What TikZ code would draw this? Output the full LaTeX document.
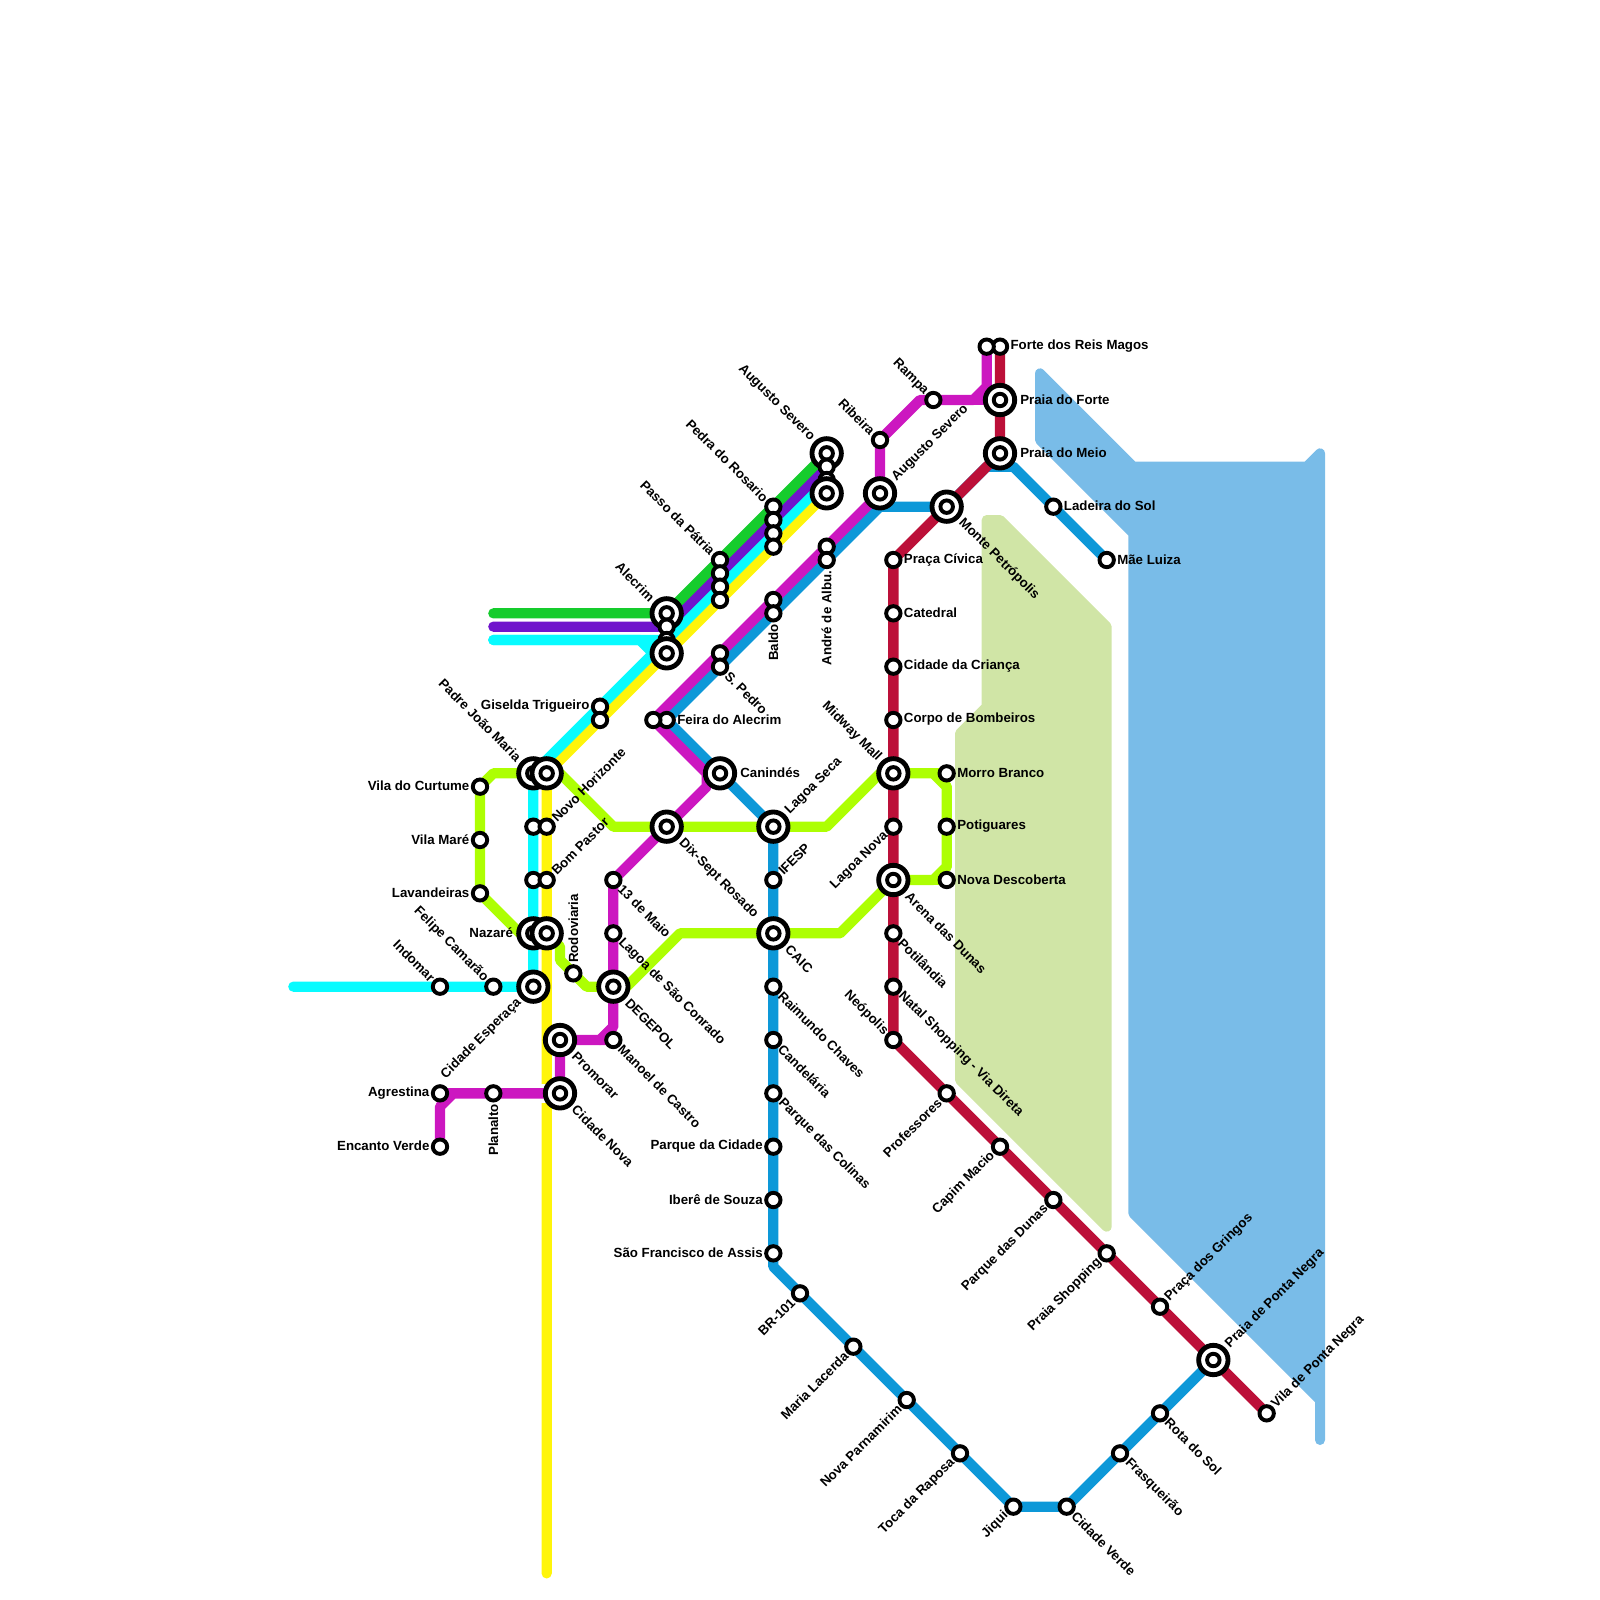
\documentclass[tikz,border=0pt]{standalone}
\usepackage{fontspec}
\setmainfont{Liberation Sans}
\usetikzlibrary{backgrounds}
\definecolor{lnred}{HTML}{BC1039}
\definecolor{lnblue}{HTML}{0D98D8}
\definecolor{lnmag}{HTML}{CC17C0}
\definecolor{lnlime}{HTML}{ADFF03}
\definecolor{lncyan}{HTML}{08FBFF}
\definecolor{lnyellow}{HTML}{FFF50A}
\definecolor{lngreen}{HTML}{15CC2D}
\definecolor{lnpurple}{HTML}{7014CC}
\definecolor{seacol}{HTML}{79BCE8}
\definecolor{parkcol}{HTML}{D0E5A6}
\tikzset{
  stop/.style={circle,draw=black,fill=white,line width=2.5pt,minimum size=9.2pt,inner sep=0pt},
  hub/.style={circle,draw=black,fill=white,line width=3.1pt,minimum size=18.8pt,inner sep=0pt,
    path picture={\draw[line width=2.5pt] (path picture bounding box.center) circle (4pt);}},
  line/.style={line width=6.6pt,line cap=round,line join=round},
  area/.style={line width=6.4pt,line cap=round,line join=round},
  txt/.style={font=\fontsize{8.5}{10}\selectfont\bfseries,inner sep=0pt,text=black},
  lblr/.style={txt,anchor=west,xshift=#1,yshift=0.3pt},
  lblr/.default=6.6pt,
  lbll/.style={txt,anchor=east,xshift=-#1,yshift=0.3pt},
  lbll/.default=6.6pt,
  lbldr/.style={txt,shift={(#1,-#1)},rotate=-45,anchor=west},
  lbldr/.default=4.5pt,
  lblul/.style={txt,shift={(-#1,#1)},rotate=-45,anchor=east},
  lblul/.default=4.5pt,
  lblur/.style={txt,shift={(#1,#1)},rotate=45,anchor=west},
  lblur/.default=4.5pt,
  lbldl/.style={txt,shift={(-#1,-#1)},rotate=45,anchor=east},
  lbldl/.default=4.5pt,
  lblu/.style={txt,yshift=6.6pt,rotate=90,anchor=west},
  lbld/.style={txt,yshift=-6.6pt,rotate=90,anchor=east}
}
\begin{document}
\begin{tikzpicture}[x=0.3cm,y=-0.3cm]
\useasboundingbox (0,0) rectangle (120,120);
% red
\node[stop] (forte) at (75,26) {};
\node[lblr] (fortet) at (forte) {Forte dos Reis Magos};
\node[stop] (forteb) at (74,26) {};
\node[hub] (pforte) at (75,30) {};
\node[lblr=12.8pt] (pfortet) at (pforte) {Praia do Forte};
\node[hub] (pmeio) at (75,34) {};
\node[lblr=12.8pt] (pmeiot) at (pmeio) {Praia do Meio};
\node[hub] (monte) at (71,38) {};
\node[lbldr=9pt] (montet) at (monte) {Monte Petrópolis};
\node[stop] (civica) at (67,42) {};
\node[lblr] (civicat) at (civica) {Praça Cívica};
\node[stop] (catedral) at (67,46) {};
\node[lblr] (catedralt) at (catedral) {Catedral};
\node[stop] (crianca) at (67,50) {};
\node[lblr] (criancat) at (crianca) {Cidade da Criança};
\node[stop] (bombeiros) at (67,54) {};
\node[lblr] (bombeirost) at (bombeiros) {Corpo de Bombeiros};
\node[hub] (midway) at (67,58) {};
\node[lblul=9pt] (midwayt) at (midway) {Midway Mall};
\node[stop] (lnova) at (67,62) {};
\node[lbldl] (lnovat) at (lnova) {Lagoa Nova};
\node[hub] (arena) at (67,66) {};
\node[lbldr=9pt] (arenat) at (arena) {Arena das Dunas};
\node[stop] (potilandia) at (67,70) {};
\node[lbldr] (potilandiat) at (potilandia) {Potilândia};
\node[stop] (natal) at (67,74) {};
\node[lbldr] (natalt) at (natal) {Natal Shopping - Via Direta};
\node[stop] (neopolis) at (67,78) {};
\node[lblul] (neopolist) at (neopolis) {Neópolis};
\node[stop] (profs) at (71,82) {};
\node[lbldl] (profst) at (profs) {Professores};
\node[stop] (capim) at (75,86) {};
\node[lbldl] (capimt) at (capim) {Capim Macio};
\node[stop] (pdunas) at (79,90) {};
\node[lbldl] (pdunast) at (pdunas) {Parque das Dunas};
\node[stop] (pshop) at (83,94) {};
\node[lbldl] (pshopt) at (pshop) {Praia Shopping};
\node[stop] (gringos) at (87,98) {};
\node[lblur] (gringost) at (gringos) {Praça dos Gringos};
\node[hub] (pnegra) at (91,102) {};
\node[lblur=9pt] (pnegrat) at (pnegra) {Praia de Ponta Negra};
\node[stop] (vnegra) at (95,106) {};
\node[lblur] (vnegrat) at (vnegra) {Vila de Ponta Negra};
% blue
\node[stop] (ladeira) at (79,38) {};
\node[lblr] (ladeirat) at (ladeira) {Ladeira do Sol};
\node[stop] (maeluiza) at (83,42) {};
\node[lblr] (maeluizat) at (maeluiza) {Mãe Luiza};
\node[stop] (rota) at (87,106) {};
\node[lbldr] (rotat) at (rota) {Rota do Sol};
\node[stop] (frasq) at (84,109) {};
\node[lbldr] (frasqt) at (frasq) {Frasqueirão};
\node[stop] (cverde) at (80,113) {};
\node[lbldr] (cverdet) at (cverde) {Cidade Verde};
\node[stop] (jiqui) at (76,113) {};
\node[lbldl] (jiquit) at (jiqui) {Jiqui};
\node[stop] (toca) at (72,109) {};
\node[lbldl] (tocat) at (toca) {Toca da Raposa};
\node[stop] (parnamirim) at (68,105) {};
\node[lbldl] (parnamirimt) at (parnamirim) {Nova Parnamirim};
\node[stop] (lacerda) at (64,101) {};
\node[lbldl] (lacerdat) at (lacerda) {Maria Lacerda};
\node[stop] (brcem) at (60,97) {};
\node[lbldl] (brcemt) at (brcem) {BR-101};
\node[stop] (assis) at (58,94) {};
\node[lbll] (assist) at (assis) {São Francisco de Assis};
\node[stop] (ibere) at (58,90) {};
\node[lbll] (iberet) at (ibere) {Iberê de Souza};
\node[stop] (pcidade) at (58,86) {};
\node[lbll] (pcidadet) at (pcidade) {Parque da Cidade};
\node[stop] (colinas) at (58,82) {};
\node[lbldr] (colinast) at (colinas) {Parque das Colinas};
\node[stop] (candelaria) at (58,78) {};
\node[lbldr] (candelariat) at (candelaria) {Candelária};
\node[stop] (raimundo) at (58,74) {};
\node[lbldr] (raimundot) at (raimundo) {Raimundo Chaves};
\node[hub] (caic) at (58,70) {};
\node[lbldr=9pt] (caict) at (caic) {CAIC};
\node[stop] (ifesp) at (58,66) {};
\node[lblur] (ifespt) at (ifesp) {IFESP};
\node[hub] (lseca) at (58,62) {};
\node[lblur=9pt] (lsecat) at (lseca) {Lagoa Seca};
\node[hub] (canindes) at (54,58) {};
\node[lblr=12.8pt] (canindest) at (canindes) {Canindés};
\node[stop] (feira) at (50,54) {};
\node[lblr] (feirat) at (feira) {Feira do Alecrim};
\node[stop] (feirab) at (49,54) {};
\node[stop] (spedrob) at (54,49) {};
\node[stop] (spedro) at (54,50) {};
\node[lbldr] (spedrot) at (spedro) {S. Pedro};
\node[stop] (baldob) at (58,45) {};
\node[stop] (baldo) at (58,46) {};
\node[lbld] (baldot) at (baldo) {Baldo};
\node[stop] (andreb) at (62,41) {};
\node[stop] (andre) at (62,42) {};
\node[lbld] (andret) at (andre) {André de Albu.};
\node[hub] (augusto) at (66,37) {};
\node[lblur=9pt] (augustot) at (augusto) {Augusto Severo};
\node[stop] (ribeira) at (66,33) {};
\node[lblul] (ribeirat) at (ribeira) {Ribeira};
\node[stop] (rampa) at (70,30) {};
\node[lblul] (rampat) at (rampa) {Rampa};
% stacks on the four parallel lines
\node[hub] (sevg) at (62,34) {};
\node[lblul=9pt] (sevgt) at (sevg) {Augusto Severo};
\node[stop] (sevp) at (62,35) {};
\node[stop] (sevc) at (62,36) {};
\node[hub] (sevy) at (62,37) {};
\node[stop] (pedrag) at (58,38) {};
\node[lblul] (pedragt) at (pedrag) {Pedra do Rosario};
\node[stop] (pedrap) at (58,39) {};
\node[stop] (pedrac) at (58,40) {};
\node[stop] (pedray) at (58,41) {};
\node[stop] (passog) at (54,42) {};
\node[lblul] (passogt) at (passog) {Passo da Pátria};
\node[stop] (passop) at (54,43) {};
\node[stop] (passoc) at (54,44) {};
\node[stop] (passoy) at (54,45) {};
\node[hub] (alecg) at (50,46) {};
\node[lblul=9pt] (alecgt) at (alecg) {Alecrim};
\node[stop] (alecp) at (50,47) {};
\node[stop] (alecc) at (50,48) {};
\node[hub] (alecy) at (50,49) {};
\node[stop] (gisc) at (45,53) {};
\node[lbll] (gisct) at (gisc) {Giselda Trigueiro};
\node[stop] (gisy) at (45,54) {};
% west side
\node[hub] (padre) at (40,58) {};
\node[lblul=9pt] (padret) at (padre) {Padre João Maria};
\node[hub] (padrey) at (41,58) {};
\node[stop] (novoc) at (40,62) {};
\node[stop] (novoh) at (41,62) {};
\node[lblur] (novoht) at (novoh) {Novo Horizonte};
\node[stop] (bomc) at (40,66) {};
\node[stop] (bom) at (41,66) {};
\node[lblur] (bomt) at (bom) {Bom Pastor};
\node[hub] (nazare) at (40,70) {};
\node[lbll=12.8pt] (nazaret) at (nazare) {Nazaré};
\node[hub] (nazarey) at (41,70) {};
\node[hub] (esperanca) at (40,74) {};
\node[lbldl=9pt] (esperancat) at (esperanca) {Cidade Esperaça};
\node[stop] (felipe) at (37,74) {};
\node[lblul] (felipet) at (felipe) {Felipe Camarão};
\node[stop] (indomar) at (33,74) {};
\node[lblul] (indomart) at (indomar) {Indomar};
\node[stop] (curtume) at (36,59) {};
\node[lbll] (curtumet) at (curtume) {Vila do Curtume};
\node[stop] (vmare) at (36,63) {};
\node[lbll] (vmaret) at (vmare) {Vila Maré};
\node[stop] (lavand) at (36,67) {};
\node[lbll] (lavandt) at (lavand) {Lavandeiras};
\node[stop] (rodov) at (43,73) {};
\node[lblu] (rodovt) at (rodov) {Rodoviaria};
\node[hub] (dixsept) at (50,62) {};
\node[lbldr=9pt] (dixseptt) at (dixsept) {Dix-Sept Rosado};
\node[stop] (maio) at (46,66) {};
\node[lbldr] (maiot) at (maio) {13 de Maio};
\node[stop] (conrado) at (46,70) {};
\node[lbldr] (conradot) at (conrado) {Lagoa de São Conrado};
\node[hub] (degepol) at (46,74) {};
\node[lbldr=9pt] (degepolt) at (degepol) {DEGEPOL};
\node[stop] (manoel) at (46,78) {};
\node[lbldr] (manoelt) at (manoel) {Manoel de Castro};
\node[hub] (promorar) at (42,78) {};
\node[lbldr=9pt] (promorart) at (promorar) {Promorar};
\node[hub] (cnova) at (42,82) {};
\node[lbldr=9pt] (cnovat) at (cnova) {Cidade Nova};
\node[stop] (planalto) at (37,82) {};
\node[lbld] (planaltot) at (planalto) {Planalto};
\node[stop] (agrestina) at (33,82) {};
\node[lbll] (agrestinat) at (agrestina) {Agrestina};
\node[stop] (encanto) at (33,86) {};
\node[lbll] (encantot) at (encanto) {Encanto Verde};
% east of the red line
\node[stop] (morro) at (71,58) {};
\node[lblr] (morrot) at (morro) {Morro Branco};
\node[stop] (potig) at (71,62) {};
\node[lblr] (potigt) at (potig) {Potiguares};
\node[stop] (descob) at (71,66) {};
\node[lblr] (descobt) at (descob) {Nova Descoberta};
% bends and free ends
\coordinate (gend) at (37,46);
\coordinate (pend) at (37,47);
\coordinate (cend) at (37,48);
\coordinate (cbenda) at (48,48);
\coordinate (cbendb) at (49,49);
\coordinate (cwest) at (22,74);
\coordinate (ysouth) at (41,118);
\coordinate (bbenda) at (58,95);
\coordinate (bbendb) at (66,38);
\coordinate (bbendc) at (74,35);
\coordinate (bbendd) at (76,35);
\coordinate (mbenda) at (69,30);
\coordinate (mbendb) at (74,29);
\coordinate (mbendc) at (73,30);
\coordinate (mbendd) at (53,58);
\coordinate (mbende) at (53,59);
\coordinate (mbendf) at (46,77);
\coordinate (mbendg) at (45,78);
\coordinate (mbendh) at (34,82);
\coordinate (mbendi) at (33,83);
\coordinate (wbenda) at (37,58);
\coordinate (wbendb) at (39,70);
\coordinate (wbendc) at (42,58);
\coordinate (wbendd) at (46,62);
\coordinate (wbende) at (62,62);
\coordinate (wbendf) at (66,58);
\coordinate (wbendg) at (70,58);
\coordinate (wbendh) at (71,59);
\coordinate (wbendi) at (71,65);
\coordinate (wbendj) at (70,66);
\coordinate (wbendk) at (63,70);
\coordinate (wbendl) at (51,70);
\coordinate (wbendm) at (47,74);
\coordinate (wbendn) at (44,74);
\coordinate (wbendo) at (42,72);
\coordinate (wbendp) at (42,71);
\begin{scope}[on background layer]
\draw[area,draw=parkcol,fill=parkcol] (74,39) -- (75,39) -- (83,47) -- (83,92) -- (72,81) -- (72,55) -- (74,53) -- cycle;
\draw[area,draw=seacol,fill=seacol] (78,28) -- (85,35) -- (98,35) -- (99,34) -- (99,108) -- (99,105) -- (85,91) -- (85,40) -- (78,33) -- cycle;
\draw[line,lnyellow] (sevy.center) -- (pedray.center) -- (passoy.center) -- (alecy.center) -- (gisy.center) -- (padrey.center) -- (novoh.center) -- (bom.center) -- (nazarey.center) -- (ysouth);
\draw[line,lncyan] (cend) -- (alecc.center) -- (passoc.center) -- (pedrac.center) -- (sevc.center);
\draw[line,lncyan] (cend) -- (cbenda) -- (cbendb) -- (gisc.center) -- (padre.center) -- (novoc.center) -- (bomc.center) -- (nazare.center) -- (esperanca.center) -- (felipe.center) -- (indomar.center) -- (cwest);
\draw[line,lnpurple] (pend) -- (alecp.center) -- (passop.center) -- (pedrap.center) -- (sevp.center);
\draw[line,lngreen] (gend) -- (alecg.center) -- (passog.center) -- (pedrag.center) -- (sevg.center);
\draw[line,lnlime] (padrey.center) -- (padre.center) -- (wbenda) -- (curtume.center) -- (vmare.center) -- (lavand.center) -- (wbendb) -- (nazare.center) -- (nazarey.center) -- (wbendp) -- (wbendo) -- (wbendn) -- (degepol.center) -- (wbendm) -- (wbendl) -- (caic.center) -- (wbendk) -- (arena.center) -- (wbendj) -- (wbendi) -- (wbendh) -- (wbendg) -- (midway.center) -- (wbendf) -- (wbende) -- (lseca.center) -- (dixsept.center) -- (wbendd) -- (wbendc) -- (padrey.center);
\draw[line,lnlime] (morro.center) -- (wbendg);
\draw[line,lnlime] (wbendh) -- (potig.center) -- (wbendi);
\draw[line,lnlime] (descob.center) -- (wbendj);
\draw[line,lnblue] (maeluiza.center) -- (ladeira.center) -- (bbendd) -- (bbendc) -- (monte.center) -- (bbendb) -- (andre.center) -- (baldo.center) -- (spedro.center) -- (feira.center) -- (canindes.center) -- (lseca.center) -- (ifesp.center) -- (caic.center) -- (raimundo.center) -- (candelaria.center) -- (colinas.center) -- (pcidade.center) -- (ibere.center) -- (assis.center) -- (bbenda) -- (brcem.center) -- (lacerda.center) -- (parnamirim.center) -- (toca.center) -- (jiqui.center) -- (cverde.center) -- (frasq.center) -- (rota.center) -- (pnegra.center);
\draw[white,line width=12.6pt] (planalto.center) -- (cnova.center);
\draw[line,lnmag] (encanto.center) -- (mbendi) -- (mbendh) -- (agrestina.center) -- (planalto.center) -- (cnova.center) -- (promorar.center) -- (manoel.center);
\draw[line,lnmag] (mbendg) -- (mbendf) -- (degepol.center) -- (conrado.center) -- (maio.center) -- (dixsept.center) -- (mbende) -- (mbendd) -- (feirab.center) -- (spedrob.center) -- (baldob.center) -- (andreb.center) -- (augusto.center) -- (ribeira.center) -- (mbenda) -- (rampa.center) -- (mbendc) -- (mbendb) -- (forteb.center);
\draw[line,lnmag] (mbendc) -- (pforte.center);
\draw[line,lnred] (forte.center) -- (pforte.center) -- (pmeio.center) -- (monte.center) -- (civica.center) -- (catedral.center) -- (crianca.center) -- (bombeiros.center) -- (midway.center) -- (lnova.center) -- (arena.center) -- (potilandia.center) -- (natal.center) -- (neopolis.center) -- (profs.center) -- (capim.center) -- (pdunas.center) -- (pshop.center) -- (gringos.center) -- (pnegra.center) -- (vnegra.center);
\end{scope}
\end{tikzpicture}
\end{document}
